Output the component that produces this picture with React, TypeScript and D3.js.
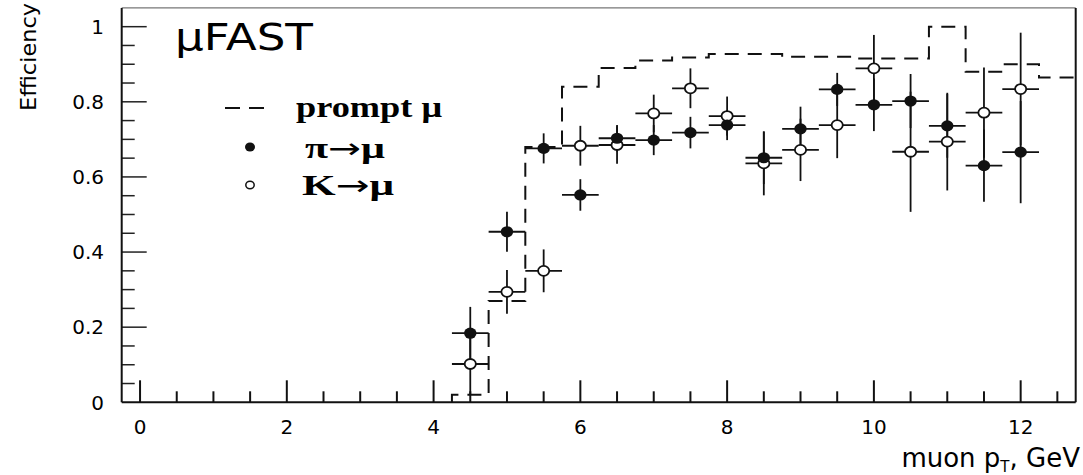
import React, { useEffect, useRef } from "react";
import * as d3 from "d3";

// efficiency vs muon pT, bins of 0.5 GeV
const binCenters = [4.5, 5, 5.5, 6, 6.5, 7, 7.5, 8, 8.5, 9, 9.5, 10, 10.5, 11, 11.5, 12];
const pionEff = [0.184, 0.454, 0.676, 0.552, 0.703, 0.698, 0.718, 0.738, 0.651, 0.728, 0.833, 0.792, 0.802, 0.736, 0.63, 0.666];
const pionErr = [0.07, 0.053, 0.04, 0.042, 0.035, 0.04, 0.042, 0.04, 0.07, 0.059, 0.044, 0.07, 0.072, 0.085, 0.096, 0.136];
const kaonEff = [0.102, 0.294, 0.35, 0.683, 0.685, 0.769, 0.836, 0.762, 0.636, 0.672, 0.738, 0.889, 0.667, 0.694, 0.771, 0.834];
const kaonErr = [0.08, 0.058, 0.057, 0.053, 0.05, 0.05, 0.053, 0.052, 0.085, 0.083, 0.088, 0.089, 0.16, 0.13, 0.12, 0.15];

const promptCenters = [4.5, 5, 5.5, 6, 6.5, 7, 7.5, 8, 8.5, 9, 9.5, 10, 10.5, 11, 11.5, 12, 12.5];
const promptEff = [0.02, 0.27, 0.68, 0.84, 0.89, 0.91, 0.918, 0.927, 0.927, 0.92, 0.92, 0.915, 0.915, 1.0, 0.88, 0.9, 0.865];

const xTickValues = [0, 2, 4, 6, 8, 10, 12];
const yTickValues = [0, 0.2, 0.4, 0.6, 0.8, 1];
const halfBin = 0.25;

const App = () => {
  const ref = useRef(null);

  useEffect(() => {
    document.body.style.margin = "0";
    const svg = d3.select(ref.current);
    svg.selectAll("*").remove();

    const left = 121.7, right = 1075.7, top = 7.9, bottom = 402.3;
    const sans = "'DejaVu Sans', sans-serif";
    const serif = "'Liberation Serif', 'DejaVu Serif', serif";

    const x = d3.scaleLinear().domain([-0.25, 12.75]).range([left, right]);
    const y = d3.scaleLinear().domain([0, 1.05]).range([bottom, top]);

    svg.append("rect").attr("width", 1083).attr("height", 475).attr("fill", "white");

    // frame
    svg.append("line").attr("x1", left).attr("x2", right).attr("y1", top).attr("y2", top)
      .attr("stroke", "#777").attr("stroke-width", 1.2);
    svg.append("line").attr("x1", right).attr("x2", right).attr("y1", top).attr("y2", bottom)
      .attr("stroke", "#111").attr("stroke-width", 2);

    // x ticks
    const xMinor = d3.range(0, 12.75, 0.5);
    svg.append("g").selectAll("line").data(xMinor).join("line")
      .attr("x1", d => x(d)).attr("x2", d => x(d))
      .attr("y1", bottom)
      .attr("y2", d => bottom - (d % 2 === 0 ? 22 : 11))
      .attr("stroke", "#111").attr("stroke-width", 2);

    svg.append("g").selectAll("text").data(xTickValues).join("text")
      .attr("x", d => x(d)).attr("y", 434)
      .attr("text-anchor", "middle")
      .attr("font-family", sans).attr("font-size", 20)
      .text(d => String(d));

    // y ticks
    const yMinor = d3.range(0.05, 1.04, 0.05);
    svg.append("g").selectAll("line").data(yMinor).join("line")
      .attr("x1", left).attr("x2", d => left + (Math.abs(d * 5 - Math.round(d * 5)) < 1e-6 ? 25 : 13))
      .attr("y1", d => y(d)).attr("y2", d => y(d))
      .attr("stroke", "#222").attr("stroke-width", 1.5);

    svg.append("g").selectAll("text").data(yTickValues).join("text")
      .attr("x", 104).attr("y", d => y(d))
      .attr("dy", "0.36em")
      .attr("text-anchor", "end")
      .attr("font-family", sans).attr("font-size", 20)
      .text(d => String(d));

    // axes lines
    svg.append("line").attr("x1", left).attr("x2", left).attr("y1", top).attr("y2", bottom)
      .attr("stroke", "#111").attr("stroke-width", 2);
    svg.append("line").attr("x1", left).attr("x2", right).attr("y1", bottom).attr("y2", bottom)
      .attr("stroke", "#111").attr("stroke-width", 2);

    // axis titles
    svg.append("text")
      .attr("transform", "translate(36,3) rotate(-90)")
      .attr("text-anchor", "end")
      .attr("font-family", sans).attr("font-size", 22)
      .attr("textLength", 108).attr("lengthAdjust", "spacingAndGlyphs")
      .text("Efficiency");

    const xt = svg.append("text")
      .attr("x", 1080).attr("y", 467)
      .attr("text-anchor", "end")
      .attr("font-family", sans).attr("font-size", 26);
    xt.append("tspan").text("muon p");
    xt.append("tspan").attr("font-size", 15).attr("dy", 5).text("T");
    xt.append("tspan").attr("dy", -5).text(", GeV");

    // prompt muon histogram (dashed)
    const steps = [{ x: promptCenters[0] - halfBin, y: 0 }]
      .concat(promptCenters.map((c, i) => ({ x: c - halfBin, y: promptEff[i] })))
      .concat([{ x: promptCenters[promptCenters.length - 1] + halfBin, y: promptEff[promptEff.length - 1] }]);

    const stepLine = d3.line<any>()
      .x(d => x(d.x))
      .y(d => y(d.y))
      .curve(d3.curveStepAfter);

    svg.append("path")
      .attr("d", stepLine(steps))
      .attr("fill", "none")
      .attr("stroke", "#111")
      .attr("stroke-width", 2)
      .attr("stroke-dasharray", "14,9");

    // error bars
    const drawBars = (vals, errs) => {
      const g = svg.append("g").attr("stroke", "#111").attr("stroke-width", 1.8);
      binCenters.forEach((c, i) => {
        g.append("line")
          .attr("x1", x(c - halfBin)).attr("x2", x(c + halfBin))
          .attr("y1", y(vals[i])).attr("y2", y(vals[i]));
        g.append("line")
          .attr("x1", x(c)).attr("x2", x(c))
          .attr("y1", y(vals[i] - errs[i])).attr("y2", y(vals[i] + errs[i]));
      });
    };
    drawBars(kaonEff, kaonErr);
    drawBars(pionEff, pionErr);

    svg.append("g").selectAll("ellipse").data(binCenters).join("ellipse")
      .attr("cx", d => x(d)).attr("cy", (d, i) => y(kaonEff[i]))
      .attr("rx", 5.6).attr("ry", 5)
      .attr("fill", "white").attr("stroke", "#111").attr("stroke-width", 1.8);

    svg.append("g").selectAll("ellipse").data(binCenters).join("ellipse")
      .attr("cx", d => x(d)).attr("cy", (d, i) => y(pionEff[i]))
      .attr("rx", 6.2).attr("ry", 5.6)
      .attr("fill", "#111");

    // title
    svg.append("text")
      .attr("x", 175).attr("y", 50)
      .attr("font-family", sans).attr("font-size", 37)
      .attr("textLength", 138).attr("lengthAdjust", "spacingAndGlyphs")
      .text("μFAST");

    // legend
    svg.append("line")
      .attr("x1", 225).attr("x2", 264).attr("y1", 108).attr("y2", 108)
      .attr("stroke", "#111").attr("stroke-width", 2).attr("stroke-dasharray", "15,9");
    svg.append("ellipse").attr("cx", 250).attr("cy", 147).attr("rx", 5).attr("ry", 4.5).attr("fill", "#111");
    svg.append("ellipse").attr("cx", 250).attr("cy", 185).attr("rx", 4.2).attr("ry", 3.8)
      .attr("fill", "white").attr("stroke", "#111").attr("stroke-width", 1.5);

    const legendItems = [
      { parts: ["prompt μ"], x: 296, y: 117, w: 146 },
      { parts: ["π", "→", "μ"], x: 305, y: 158, w: 80 },
      { parts: ["K", "→", "μ"], x: 302, y: 195, w: 92 },
    ];
    legendItems.forEach(item => {
      const t = svg.append("text")
        .attr("x", item.x).attr("y", item.y)
        .attr("font-family", serif).attr("font-weight", "bold").attr("font-size", 30)
        .attr("textLength", item.w).attr("lengthAdjust", "spacingAndGlyphs");
      item.parts.forEach(p => {
        const s = t.append("tspan").text(p);
        if (p === "→") s.attr("font-family", sans).attr("font-weight", "normal").attr("font-size", 28);
      });
    });
  }, []);

  return <svg ref={ref} width={1083} height={475} style={{ display: "block" }} />;
};

export default App;
